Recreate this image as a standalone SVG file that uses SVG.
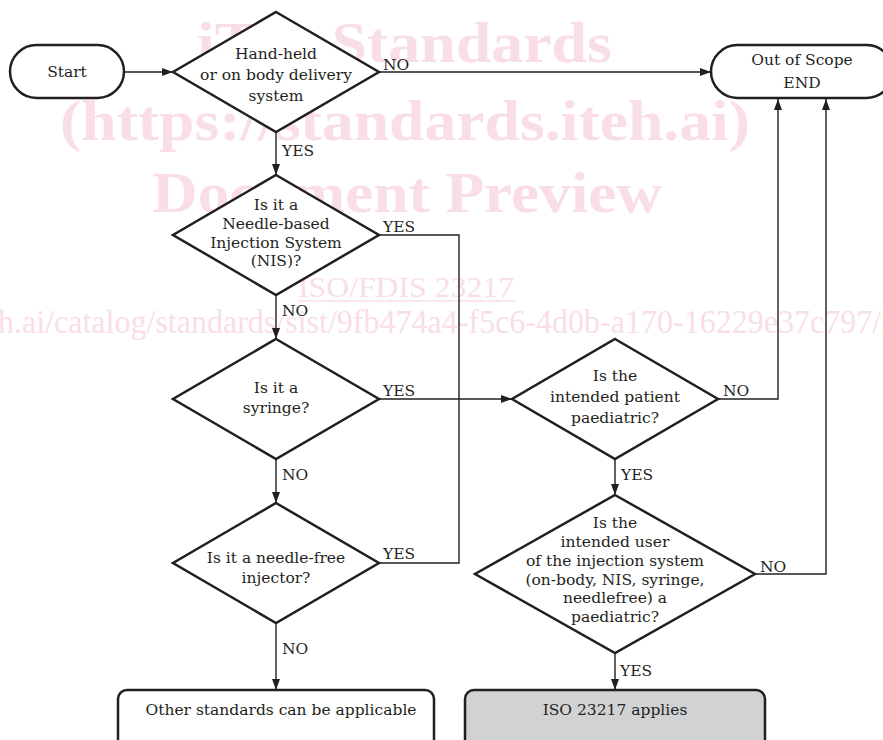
<svg xmlns="http://www.w3.org/2000/svg" width="883" height="740" viewBox="0 0 883 740">
<style>
.wm{font-family:"Liberation Serif","Times New Roman",serif;fill:#f9dee6}
.wmb{font-weight:bold}
.shape{fill:#fff;stroke:#231f20;stroke-width:2.5}
.grey{fill:#d1d2d4}
.t{font-family:"DejaVu Serif","Liberation Serif",serif;font-size:15.5px;fill:#231f20;text-anchor:middle}
.lbl{font-family:"DejaVu Serif","Liberation Serif",serif;font-size:15.5px;fill:#231f20}
.con{fill:none;stroke:#231f20;stroke-width:1.4}
</style>
<defs>
<marker id="arr" viewBox="0 0 11 8" refX="11" refY="4" markerWidth="11" markerHeight="8" markerUnits="userSpaceOnUse" orient="auto">
<path d="M0,0 L11,4 L0,8 Z" fill="#231f20"/>
</marker>
</defs>
<rect width="883" height="740" fill="#fff"/>
<g id="watermark">
<text class="wm wmb" x="197" y="62" font-size="58" textLength="415" lengthAdjust="spacingAndGlyphs">iTeh Standards</text>
<text class="wm wmb" x="60" y="140" font-size="58" textLength="690" lengthAdjust="spacingAndGlyphs">(https://standards.iteh.ai)</text>
<text class="wm wmb" x="152" y="212" font-size="58" textLength="510" lengthAdjust="spacingAndGlyphs">Document Preview</text>
<text class="wm" x="298" y="297" font-size="30" textLength="216" lengthAdjust="spacingAndGlyphs">ISO/FDIS 23217</text>
<line x1="298" y1="301" x2="515" y2="301" stroke="#f9dee6" stroke-width="1.5"/>
<text class="wm" x="-2" y="333" font-size="33" textLength="892" lengthAdjust="spacingAndGlyphs">h.ai/catalog/standards/sist/9fb474a4-f5c6-4d0b-a170-16229e37c797/i</text>
</g>
<g id="connectors">
<path class="con" d="M124,72 H173" marker-end="url(#arr)"/>
<path class="con" d="M379,72 H711" marker-end="url(#arr)"/>
<path class="con" d="M276,132 V175" marker-end="url(#arr)"/>
<path class="con" d="M276,295 V339" marker-end="url(#arr)"/>
<path class="con" d="M276,459 V503" marker-end="url(#arr)"/>
<path class="con" d="M276,623 V690" marker-end="url(#arr)"/>
<path class="con" d="M379,235 H459 V563 H379"/>
<path class="con" d="M379,399 H512" marker-end="url(#arr)"/>
<path class="con" d="M718,399 H778 V99" marker-end="url(#arr)"/>
<path class="con" d="M615,459 V495" marker-end="url(#arr)"/>
<path class="con" d="M755,574 H826 V99" marker-end="url(#arr)"/>
<path class="con" d="M615,653 V690" marker-end="url(#arr)"/>
<text class="lbl" x="383" y="70">NO</text>
<text class="lbl" x="282" y="156">YES</text>
<text class="lbl" x="383" y="232">YES</text>
<text class="lbl" x="282" y="316">NO</text>
<text class="lbl" x="383" y="396">YES</text>
<text class="lbl" x="282" y="480">NO</text>
<text class="lbl" x="383" y="559">YES</text>
<text class="lbl" x="282" y="654">NO</text>
<text class="lbl" x="723" y="396">NO</text>
<text class="lbl" x="621" y="480">YES</text>
<text class="lbl" x="760" y="572">NO</text>
<text class="lbl" x="620" y="676">YES</text>
</g>
<g id="start">
<rect class="shape" x="10" y="45" width="114" height="53" rx="26.5"/>
<text class="t" x="67" y="77">Start</text>
</g>
<g id="q-handheld">
<path class="shape" d="M276,12 L379,72 L276,132 L173,72 Z"/>
<text class="t" x="276" y="59">Hand-held</text>
<text class="t" x="276" y="80">or on body delivery</text>
<text class="t" x="276" y="101">system</text>
</g>
<g id="out-of-scope">
<rect class="shape" x="711" y="45" width="182" height="53" rx="26.5"/>
<text class="t" x="802" y="65">Out of Scope</text>
<text class="t" x="802" y="88">END</text>
</g>
<g id="q-nis">
<path class="shape" d="M276,175 L379,235 L276,295 L173,235 Z"/>
<text class="t" x="276" y="210">Is it a</text>
<text class="t" x="276" y="229">Needle-based</text>
<text class="t" x="276" y="248">Injection System</text>
<text class="t" x="276" y="266">(NIS)?</text>
</g>
<g id="q-syringe">
<path class="shape" d="M276,339 L379,399 L276,459 L173,399 Z"/>
<text class="t" x="276" y="393">Is it a</text>
<text class="t" x="276" y="413">syringe?</text>
</g>
<g id="q-needlefree">
<path class="shape" d="M276,503 L379,563 L276,623 L173,563 Z"/>
<text class="t" x="276" y="563">Is it a needle-free</text>
<text class="t" x="276" y="583">injector?</text>
</g>
<g id="q-patient">
<path class="shape" d="M615,339 L718,399 L615,459 L512,399 Z"/>
<text class="t" x="615" y="381">Is the</text>
<text class="t" x="615" y="402">intended patient</text>
<text class="t" x="615" y="423">paediatric?</text>
</g>
<g id="q-user">
<path class="shape" d="M615,495 L755,574 L615,653 L475,574 Z"/>
<text class="t" x="615" y="528">Is the</text>
<text class="t" x="615" y="547">intended user</text>
<text class="t" x="615" y="566">of the injection system</text>
<text class="t" x="615" y="585">(on-body, NIS, syringe,</text>
<text class="t" x="615" y="603">needlefree) a</text>
<text class="t" x="615" y="622">paediatric?</text>
</g>
<g id="other-standards">
<rect class="shape" x="118" y="690" width="316" height="70" rx="9"/>
<text class="t" x="281" y="715">Other standards can be applicable</text>
</g>
<g id="iso-applies">
<rect class="shape grey" x="465" y="690" width="300" height="70" rx="9"/>
<text class="t" x="615" y="715">ISO 23217 applies</text>
</g>
</svg>
